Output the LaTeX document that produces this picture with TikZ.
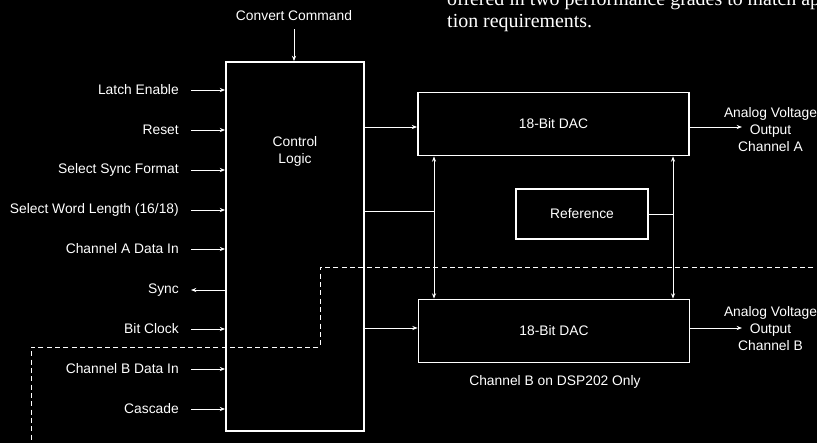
\documentclass[tikz,border=0pt]{standalone}
\usepackage{fontspec}
\setmainfont{Liberation Sans}
\newfontfamily\bodyfont{Liberation Serif}
\usetikzlibrary{arrows.meta}

\begin{document}
\begin{tikzpicture}[x=0.03cm, y=-0.03cm, white,
    >={Stealth[length=4.5pt, width=3.5pt]},
    lbl/.style={font=\fontsize{11.8}{14.5}\selectfont, inner sep=0pt},
    blk/.style={draw, line width=1.6pt, font=\fontsize{11.8}{14.5}\selectfont},
    sig/.style={line width=0.8pt},
    body/.style={font=\bodyfont\fontsize{17}{21}\selectfont, inner sep=0pt, anchor=base west}
  ]
    % Fond et cadre
    \clip (0,0) rectangle (817,443);
    \fill[black] (0,0) rectangle (817,443);

    % Texte de la page
    \node[body] (parA) at (447,5) {offered in two performance grades to match applica-};
    \node[body] (parB) at (447,27) {tion requirements.};

    % Blocs
    \node[blk, minimum width=4.14cm, minimum height=11.07cm] (ctrl) at (295,246.5) {};
    \node[lbl, align=center] (ctrltxt) at (295,151) {Control\\Logic};
    \node[blk, minimum width=8.13cm, minimum height=1.89cm] (dacA) at (553.5,124) {18-Bit DAC};
    \node[blk, minimum width=3.96cm, minimum height=1.5cm] (ref) at (582,214) {Reference};
    \node[blk, minimum width=8.13cm, minimum height=1.89cm] (dacB) at (554,331) {18-Bit DAC};

    % Entrees
    \foreach \name/\txt/\y/\dir in {le/Latch Enable/90/->, rst/Reset/130/->,
        ssf/Select Sync Format/170/->, swl/{Select Word Length (16/18)}/210/->,
        dina/Channel A Data In/249/->, sync/Sync/290/<-, bclk/Bit Clock/329/->,
        dinb/Channel B Data In/369/->, casc/Cascade/409/->} {
        \node[lbl, anchor=east] (\name) at (179,\y) {\txt};
        \draw[sig, \dir, shorten <=0.36cm] (\name.east) -- (ctrl.west |- \name.east);
    }

    % Commande de conversion
    \node[lbl] (cmd) at (294,16) {Convert Command};
    \draw[sig, ->, shorten <=0.24cm] (cmd.south) -- (cmd.south |- ctrl.north);

    % Liaisons vers les DAC
    \coordinate (rowA) at (742,127);
    \coordinate (rowB) at (742,328);
    \draw[sig, ->] (ctrl.east |- rowA) -- (dacA.west |- rowA);
    \draw[sig, ->] (ctrl.east |- rowB) -- (dacB.west |- rowB);

    % Bus entre les DAC
    \coordinate (busL) at (434,211);
    \coordinate (busR) at (673,214);
    \draw[sig] (ctrl.east |- busL) -- (busL);
    \draw[sig, <->] (dacA.south -| busL) -- (dacB.north -| busL);
    \draw[sig] (ref.east) -- (busR);
    \draw[sig, <->] (dacA.south -| busR) -- (dacB.north -| busR);

    % Sorties analogiques
    \node[lbl, align=center] (outA) at (770.5,130) {Analog Voltage\\Output\\Channel A};
    \node[lbl, align=center] (outB) at (770.5,329) {Analog Voltage\\Output\\Channel B};
    \draw[sig, ->] (dacA.east |- rowA) -- (rowA);
    \draw[sig, ->] (dacB.east |- rowB) -- (rowB);

    % Zone du canal B
    \node[lbl] (note) at (555,382) {Channel B on DSP202 Only};
    \draw[sig, dash pattern=on 0.15cm off 0.1cm] (830,267) -- (320,267) -- (320,347) -- (31,347) -- (31,460);
\end{tikzpicture}
\end{document}
